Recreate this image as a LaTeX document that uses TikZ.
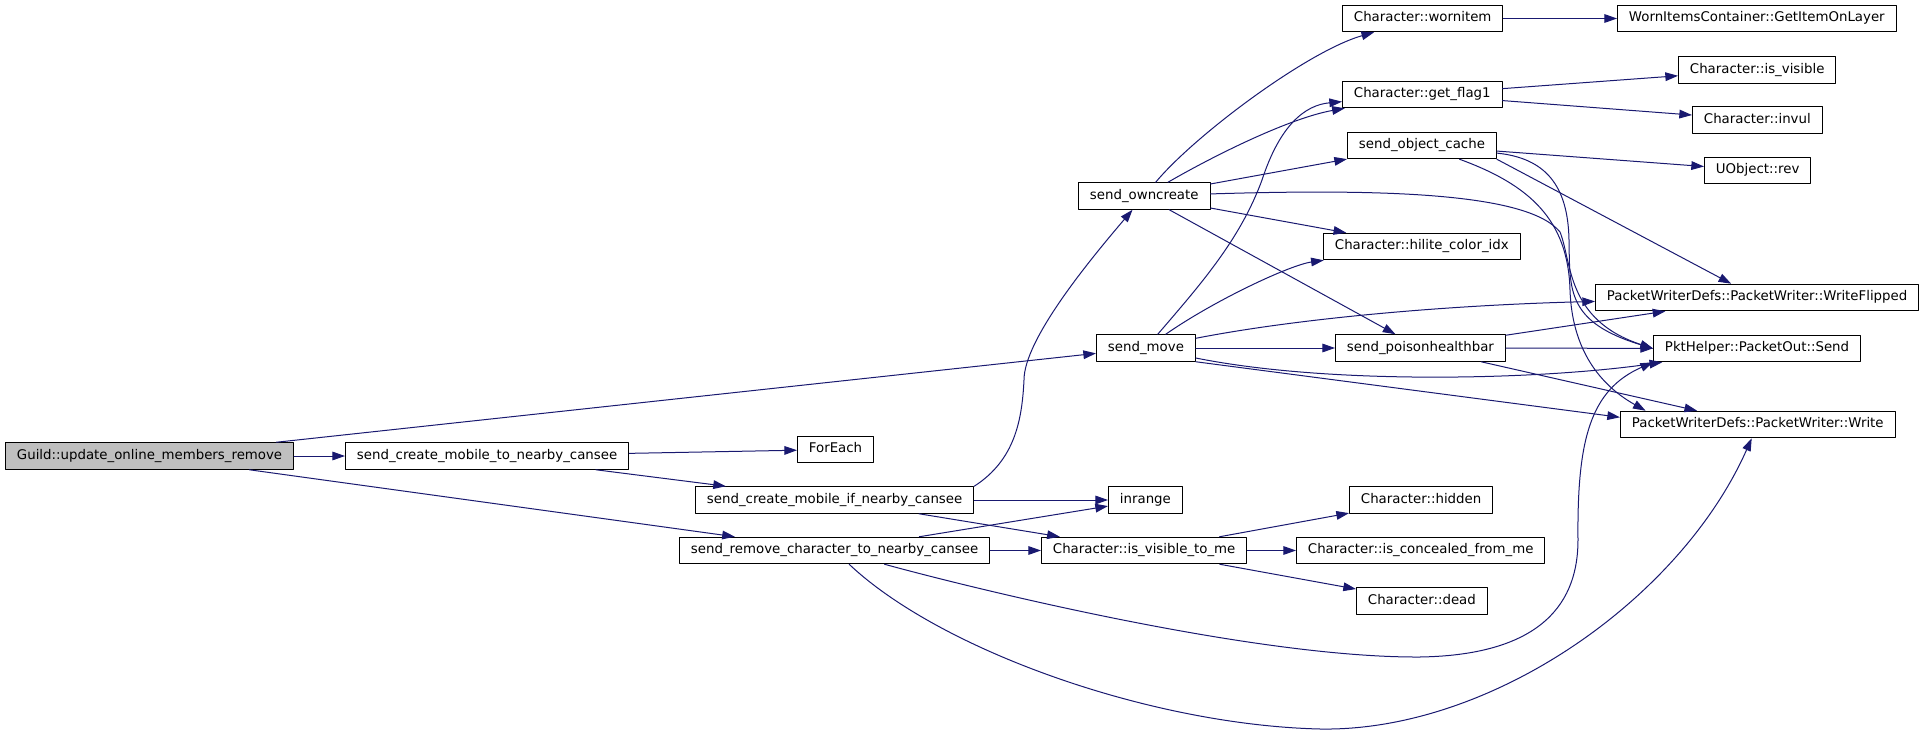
\documentclass[tikz,border=0pt]{standalone}
\usepackage{fontspec}
\setmainfont{DejaVu Sans}
\usetikzlibrary{arrows.meta}
\definecolor{rzrzxq}{rgb}{0.09803921568627451,0.09803921568627451,0.4392156862745098}
\definecolor{bfbfbf}{rgb}{0.7490196078431373,0.7490196078431373,0.7490196078431373}

\begin{document}
\begin{tikzpicture}[line cap=round,line join=round,>={Triangle[length=9.5pt,width=6.5pt]},x=0.75pt,y=-0.75pt,
fn/.style={draw=black,line width=0.75pt,fill=white,anchor=west,inner xsep=8.6pt,inner ysep=0pt,minimum height=19.9pt,text height=7.3pt,text depth=2.2pt,font=\fontsize{10pt}{12pt}\selectfont},
call/.style={->,line width=0.75pt,color=rzrzxq}]
\useasboundingbox (0,0) rectangle (1925,735);
% functions
\node[fn,fill=bfbfbf] (guild) at (5,456) {Guild::update\_online\_members\_remove};
\node[fn] (sct) at (345,456) {send\_create\_mobile\_to\_nearby\_cansee};
\node[fn] (foreach) at (797,449.5) {ForEach};
\node[fn] (sci) at (695,500) {send\_create\_mobile\_if\_nearby\_cansee};
\node[fn] (inrange) at (1108,500) {inrange};
\node[fn] (srem) at (679,550.5) {send\_remove\_character\_to\_nearby\_cansee};
\node[fn] (isvtm) at (1041,550.5) {Character::is\_visible\_to\_me};
\node[fn] (hidden) at (1349,500) {Character::hidden};
\node[fn] (conceal) at (1296,550.5) {Character::is\_concealed\_from\_me};
\node[fn] (dead) at (1356,601) {Character::dead};
\node[fn] (smove) at (1096,348) {send\_move};
\node[fn] (owncr) at (1078,196) {send\_owncreate};
\node[fn] (wornitem) at (1342,18.5) {Character::wornitem};
\node[fn] (getflag) at (1342,94.5) {Character::get\_flag1};
\node[fn] (objcache) at (1347,145.5) {send\_object\_cache};
\node[fn] (hilite) at (1323,246.5) {Character::hilite\_color\_idx};
\node[fn] (poison) at (1335,348) {send\_poisonhealthbar};
\node[fn] (worncont) at (1617,18.5) {WornItemsContainer::GetItemOnLayer};
\node[fn] (isvis) at (1678,70) {Character::is\_visible};
\node[fn] (invul) at (1692,120) {Character::invul};
\node[fn] (rev) at (1704,170.5) {UObject::rev};
\node[fn] (wflip) at (1595,297.5) {PacketWriterDefs::PacketWriter::WriteFlipped};
\node[fn] (send) at (1653,348.5) {PktHelper::PacketOut::Send};
\node[fn] (write) at (1620,424.5) {PacketWriterDefs::PacketWriter::Write};
% calls
\draw[call] (guild) -- (sct);
\draw[call] (guild) -- (smove);
\draw[call] (guild) -- (srem);
\draw[call] (sct) -- (foreach);
\draw[call] (sct) -- (sci);
\draw[call] (sci) -- (inrange);
\draw[call] (sci) -- (isvtm);
\draw[call] (sci.north east) .. controls (1015,460) and (1022,420) .. (1024,380) .. controls (1024,340) and (1088,262) .. (owncr);
\draw[call] (srem) -- (isvtm);
\draw[call] (srem) -- (inrange);
\draw[call] (srem) .. controls (960,585) and (1250,658) .. (1420,657) .. controls (1545,655) and (1578,600) .. (1578,540) .. controls (1577,440) and (1590,390) .. (send.south west);
\draw[call] (srem) .. controls (940,650) and (1150,725) .. (1320,729) .. controls (1490,732) and (1680,600) .. (write);
\draw[call] (isvtm) -- (hidden);
\draw[call] (isvtm) -- (conceal);
\draw[call] (isvtm) -- (dead);
\draw[call] (smove) -- (poison);
\draw[call] (smove) .. controls (1200,285) and (1240,240) .. (1262,180) .. controls (1280,125) and (1305,105) .. (getflag);
\draw[call] (smove) .. controls (1215,300) and (1290,265) .. (hilite);
\draw[call] (smove) .. controls (1300,318) and (1450,305) .. (wflip);
\draw[call] (smove) .. controls (1330,385) and (1540,380) .. (send);
\draw[call] (smove.south east) -- (write.177);
\draw[call] (owncr) .. controls (1195,135) and (1308,51) .. (wornitem);
\draw[call] (owncr) .. controls (1215,155) and (1290,118) .. (getflag);
\draw[call] (owncr) -- (objcache);
\draw[call] (owncr) .. controls (1400,188) and (1530,195) .. (1560,232) .. controls (1572,262) and (1566,320) .. (send.west);
\draw[call] (owncr) -- (hilite);
\draw[call] (owncr) -- (poison);
\draw[call] (objcache) -- (rev);
\draw[call] (objcache.south east) -- (wflip);
\draw[call] (objcache) .. controls (1545,158) and (1568,185) .. (1569,240) .. controls (1570,290) and (1566,322) .. (send.west);
\draw[call] (objcache) .. controls (1530,185) and (1568,220) .. (1570,290) .. controls (1572,350) and (1600,385) .. (write.173);
\draw[call] (getflag) -- (isvis);
\draw[call] (getflag) -- (invul);
\draw[call] (wornitem) -- (worncont);
\draw[call] (poison) -- (wflip);
\draw[call] (poison) -- (send);
\draw[call] (poison) -- (write);
\end{tikzpicture}
\end{document}
